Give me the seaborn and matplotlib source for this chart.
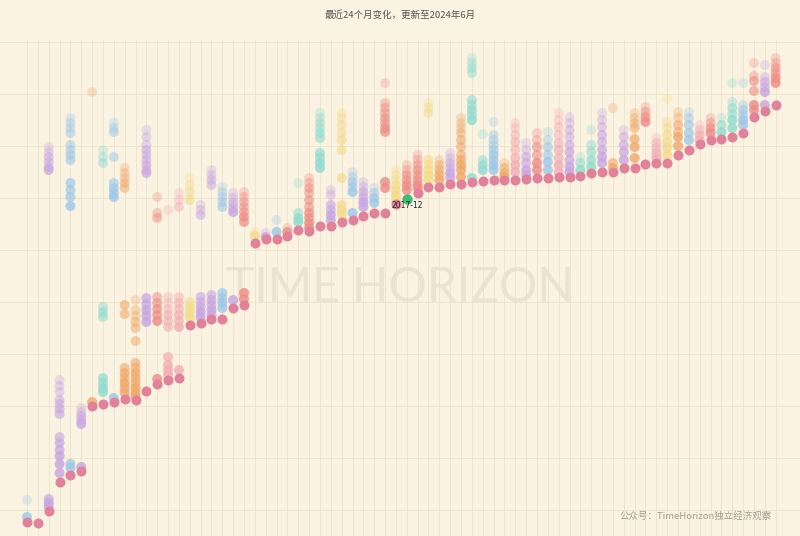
import matplotlib
matplotlib.use("Agg")
import matplotlib.pyplot as plt
import pandas as pd
import seaborn as sns

# ---------------------------------------------------------------------------
# Data (index units; one column per item, sorted by latest)
# ---------------------------------------------------------------------------

TITLE = "最近24个月变化，更新至2024年6月"
FOOTER = "公众号：TimeHorizon独立经济观察"
WATERMARK = "TIME HORIZON"

HIGHLIGHT_IDX = 35
HIGHLIGHT_LABEL = "2017-12"

PALETTE = {
    "R": "#EE8C86",   # salmon
    "B": "#9DC8E8",   # light blue
    "L": "#C8A5E2",   # lavender
    "M": "#8FDCCF",   # mint
    "O": "#F0A96B",   # orange
    "Y": "#F4DA8A",   # yellow
    "P": "#F3AEB4",   # light pink
}
CURRENT_COLOR = "#E2829A"
HIGHLIGHT_COLOR = "#3DBE72"
BG = "#FAF3E1"
GRID = "#EDE2CB"

COLUMN_COLORS = [
    "B", "R", "L", "L", "B", "L", "O", "M", "B", "O",
    "O", "L", "R", "P", "P", "Y", "L", "L", "B", "L",
    "R", "Y", "L", "B", "R", "M", "R", "M", "L", "Y",
    "B", "L", "B", "R", "Y", "R", "R", "Y", "O", "L",
    "O", "M", "M", "B", "O", "P", "L", "R", "B", "P",
    "L", "M", "M", "L", "O", "L", "O", "R", "P", "Y",
    "O", "B", "P", "R", "M", "M", "B", "R", "L", "R",
]

# latest value per column
CURRENT = [
    -12, -13, -1, 28, 35, 39, 104, 106, 108, 111,
    110, 119, 126, 130, 132, 185, 187, 191, 191, 202,
    205, 267, 271, 271, 274, 280, 279, 284, 284, 288,
    290, 294, 297, 297, 306, 311, 317, 323, 323, 326,
    326, 328, 329, 330, 330, 330, 331, 332, 332, 333,
    333, 334, 337, 338, 338, 342, 342, 346, 347, 347,
    355, 360, 366, 370, 371, 373, 377, 393, 399, 405,
]

# earlier months per column, oldest first
HISTORY = [
    [10, -7],
    [],
    [363, 358, 353, 348, 343, 340, 11, 7, 3],
    [130, 124, 118, 110, 106, 101, 96, 73, 67, 60, 54, 46, 37],
    [392, 387, 382, 377, 365, 360, 355, 350, 327, 320, 313, 304, 46, 42],
    [102, 98, 94, 90, 86, 43],
    [418, 108],
    [360, 353, 347, 203, 198, 193, 132, 127, 122, 118],
    [387, 382, 378, 353, 327, 322, 317, 313, 112],
    [342, 337, 332, 327, 322, 205, 196, 142, 137, 132, 127, 122, 117],
    [210, 200, 194, 188, 182, 169, 147, 142, 137, 132, 127, 122, 117, 113],
    [380, 373, 365, 360, 355, 350, 345, 340, 337, 212, 206, 200, 194, 188],
    [313, 297, 292, 213, 207, 201, 195, 189, 131],
    [300, 213, 207, 201, 195, 189, 183, 153, 145, 140, 135],
    [317, 310, 303, 213, 207, 201, 195, 189, 183, 140],
    [332, 325, 318, 310, 208, 203, 198, 193],
    [305, 300, 295, 213, 208, 203, 198, 193],
    [340, 335, 330, 325, 215, 210, 205, 200, 195],
    [323, 318, 313, 308, 303, 217, 212, 207, 202],
    [317, 312, 307, 302, 298, 210],
    [318, 313, 308, 303, 298, 293, 288, 217, 211],
    [278, 274],
    [277, 273],
    [290, 278],
    [282, 278],
    [327, 297, 292, 288],
    [332, 327, 322, 317, 310, 303, 297, 292, 287, 282],
    [397, 392, 387, 382, 377, 372, 357, 352, 347, 342],
    [320, 315, 305, 300, 295, 290],
    [397, 392, 385, 377, 370, 360, 332, 305, 300, 295],
    [338, 333, 328, 323, 318, 297],
    [328, 323, 318, 313, 308, 303],
    [322, 317, 312, 307],
    [427, 407, 402, 397, 392, 387, 382, 378, 328, 322],
    [340, 335, 330, 325, 320, 315, 310],
    [345, 340, 335, 330, 325, 320],
    [355, 350, 345, 340, 335, 330, 325, 322],
    [407, 402, 397, 350, 345, 340, 335, 330],
    [350, 345, 340, 335, 330],
    [357, 352, 347, 342, 337, 332],
    [392, 387, 382, 377, 370, 363, 355, 350, 345, 340, 333],
    [452, 447, 442, 437, 410, 405, 400, 395, 390, 332],
    [376, 350, 345, 340],
    [388, 375, 370, 365, 360, 355, 350, 345, 340],
    [347, 342, 337, 333],
    [387, 382, 375, 368, 360, 352, 345, 338],
    [367, 360, 353, 347, 340, 335],
    [377, 370, 363, 355, 347, 340],
    [378, 370, 363, 355, 348, 340],
    [397, 390, 383, 375, 367, 360, 352, 345, 338],
    [393, 387, 380, 373, 365, 358, 350, 343, 338],
    [353, 347, 340],
    [380, 365, 358, 350, 343],
    [397, 390, 383, 375, 368, 360, 353, 347],
    [402, 347, 342],
    [380, 373, 365, 358, 350],
    [397, 392, 387, 382, 371, 363, 352],
    [403, 398, 393, 388],
    [372, 367, 362, 357, 352],
    [411, 388, 382, 375, 368, 362, 355],
    [398, 392, 385, 378, 373, 364],
    [398, 392, 385, 377, 370],
    [385, 380, 375, 370],
    [392, 387, 382, 377],
    [392, 385, 378],
    [427, 408, 402, 396, 390, 382],
    [427, 405, 400, 395, 390, 385],
    [447, 434, 429, 419, 405, 400],
    [445, 433, 428, 423, 418, 405],
    [452, 447, 442, 437, 432, 427],
]

# ---------------------------------------------------------------------------
# Style
# ---------------------------------------------------------------------------

sns.set_style("white", {"axes.facecolor": BG, "figure.facecolor": BG})
plt.rcParams["font.family"] = ["Noto Sans CJK SC", "DejaVu Sans"]

DOT = 52

# ---------------------------------------------------------------------------
# Build long table: older months drawn lighter
# ---------------------------------------------------------------------------

rows = []
for i, hist in enumerate(HISTORY):
    n = len(hist)
    for k, v in enumerate(hist):
        t = k / (n - 1) if n > 1 else 1.0
        rows.append({"col": i, "value": v, "kind": COLUMN_COLORS[i],
                     "alpha": round(0.35 + 0.5 * t, 1)})
hist_df = pd.DataFrame(rows)
cur_df = pd.DataFrame({"col": range(len(CURRENT)), "value": CURRENT})

fig = plt.figure(figsize=(8, 5.36), dpi=100)
ax = fig.add_axes([0, 0, 1, 496 / 536])

for a, sub in hist_df.groupby("alpha"):
    sns.scatterplot(data=sub, x="col", y="value", hue="kind", palette=PALETTE,
                    s=DOT, alpha=a, linewidth=0, legend=False, ax=ax, zorder=2)

sns.scatterplot(data=cur_df, x="col", y="value", color=CURRENT_COLOR,
                s=DOT, linewidth=0, legend=False, ax=ax, zorder=3)
sns.scatterplot(data=cur_df.iloc[[HIGHLIGHT_IDX]], x="col", y="value",
                color=HIGHLIGHT_COLOR, s=DOT, linewidth=0, legend=False, ax=ax, zorder=4)
ax.annotate(HIGHLIGHT_LABEL, (HIGHLIGHT_IDX, CURRENT[HIGHLIGHT_IDX]),
            xytext=(0, -4.5), textcoords="offset points",
            ha="center", va="center", fontsize=5.5, color="#222222", zorder=5,
            family=["DejaVu Sans"])

ax.set_xlim(-2.49, 71.24)
ax.set_ylim(-26, 470)
ax.set_xticks(range(len(CURRENT)))
ax.set_yticks(range(0, 470, 52))
ax.grid(True, color=GRID, linewidth=0.6)
ax.set_axisbelow(True)
ax.tick_params(length=0, labelbottom=False, labelleft=False)
ax.set_xlabel("")
ax.set_ylabel("")
for s in ax.spines.values():
    s.set_visible(False)

ax.text(0.5, 0.5, WATERMARK, transform=ax.transAxes, ha="center", va="center",
        fontsize=34.5, color="#EBE2CF", family=["Lato", "DejaVu Sans"],
        fontweight="normal", zorder=1)

fig.text(0.5, 1 - 15 / 536, TITLE, ha="center", va="center",
         fontsize=6.8, color="#555555")
fig.text(772 / 800, 1 - 516 / 536, FOOTER, ha="right", va="center",
         fontsize=6.8, color="#A39C90")

fig.savefig("out.png", dpi=100, facecolor=BG)
